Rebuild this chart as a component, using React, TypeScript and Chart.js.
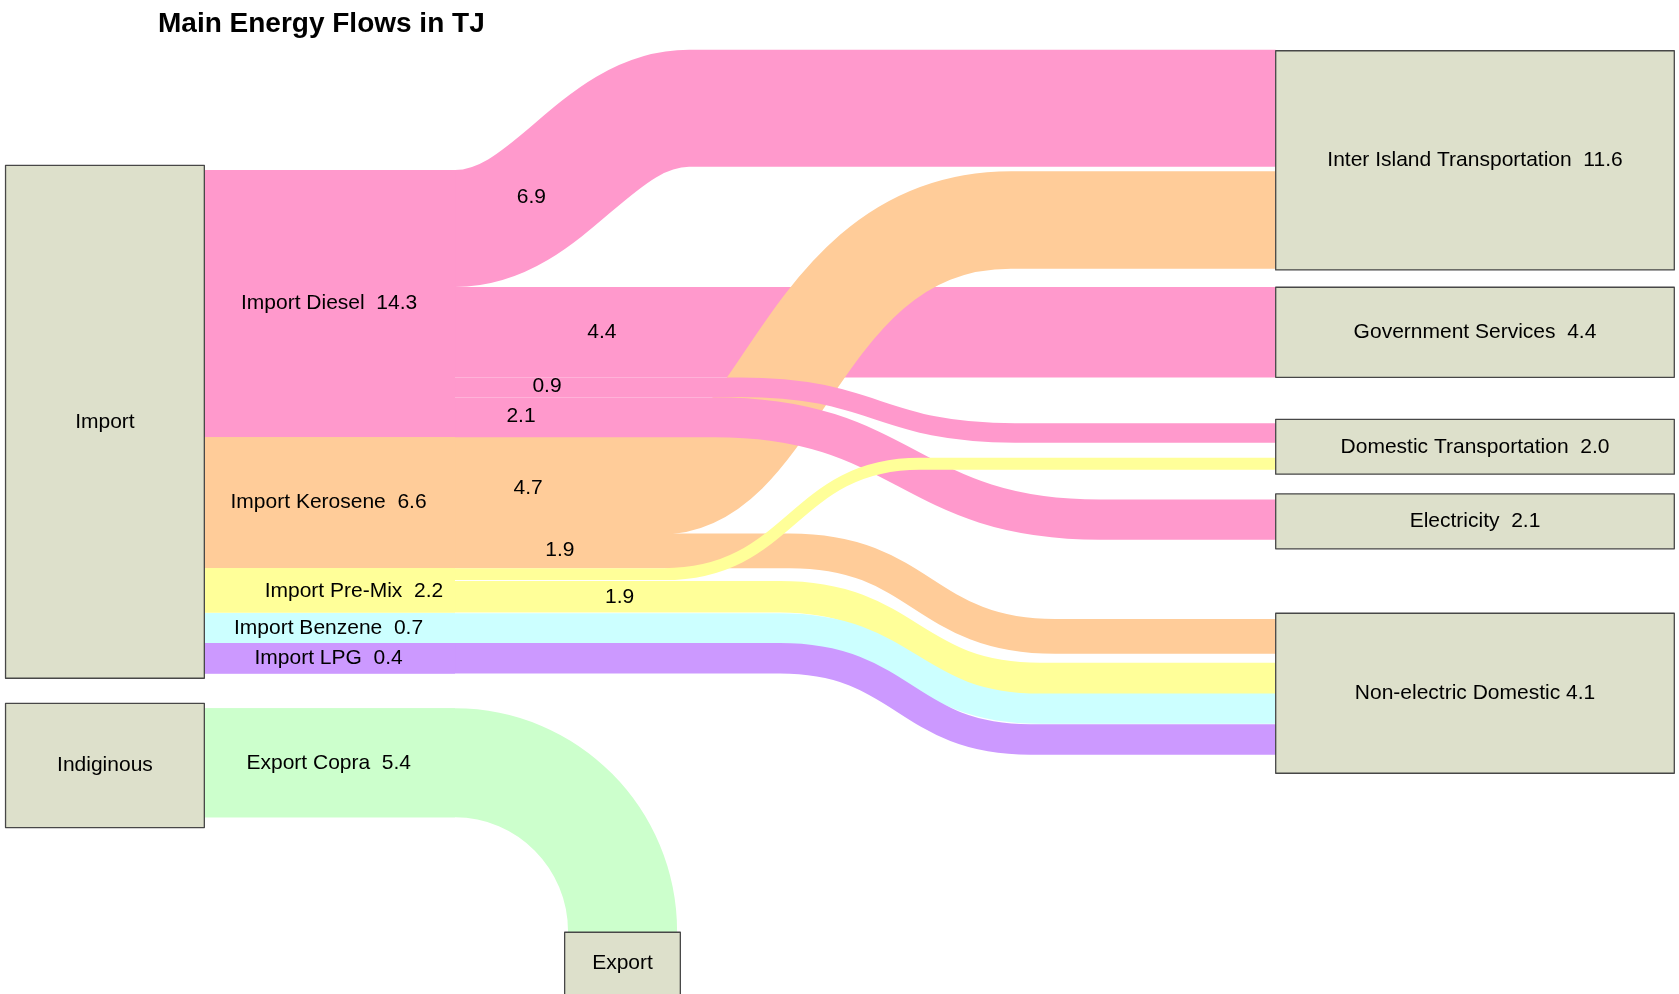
import React, { useEffect, useRef } from "react";
import { Chart, registerables } from "chart.js";

Chart.register(...registerables);

// ---------------- DATA (TJ) ----------------
const chartTitle = "Main Energy Flows in TJ";

const nodeNames = [
  "Import",
  "Indiginous",
  "Export",
  "Inter Island Transportation",
  "Government Services",
  "Domestic Transportation",
  "Electricity",
  "Non-electric Domestic",
];
const nodeValues: (number | null)[] = [null, null, null, 11.6, 4.4, 2.0, 2.1, 4.1];
const nodeValueSep = ["", "", "", "  ", "  ", "  ", "  ", " "];

const bandNames = [
  "Import Diesel",
  "Import Kerosene",
  "Import Pre-Mix",
  "Import Benzene",
  "Import LPG",
  "Export Copra",
];
const bandValues = [14.3, 6.6, 2.2, 0.7, 0.4, 5.4];

// flows: band (source fuel) -> node (destination)
const flowFrom = [0, 0, 0, 0, 1, 1, 2, 2, 3, 4, 5];
const flowTo = [3, 4, 5, 6, 3, 7, 5, 7, 7, 7, 2];
const flowValues = [6.9, 4.4, 0.9, 2.1, 4.7, 1.9, 0.3, 1.9, 0.7, 0.4, 5.4];
const flowShowLabel = [true, true, true, true, true, true, false, true, false, false, false];

// ---------------- LAYOUT / STYLE ----------------
// x axis: 0..100 (% of width); y axis: TJ-equivalent band units (top = 0)
const X_MAX = 100;
const Y_MAX = 52.32;

const bandColors = ["#FF99CC", "#FFCC99", "#FFFF99", "#CCFFFF", "#CC99FF", "#CCFFCC"];
const nodeFill = "#DDE0CB";
const nodeStroke = "#474747";
const FONT = '"Liberation Sans", Arial, sans-serif';

// node boxes [x0, x1, y0, y1]
const nodeBoxes = [
  [0.33, 12.17, 8.7, 35.7],
  [0.33, 12.17, 37.02, 43.56],
  [33.63, 40.52, 49.07, 53.5],
  [75.98, 99.72, 2.67, 14.21],
  [75.98, 99.72, 15.12, 19.86],
  [75.98, 99.72, 22.07, 24.96],
  [75.98, 99.72, 26.0, 28.89],
  [75.98, 99.72, 32.28, 40.7],
];
// node label centre override (only Export, whose box runs off the bottom)
const nodeLabelY: (number | null)[] = [null, null, 50.7, null, null, null, null, null];

// common straight stretch of each fuel band, before it splits [x0, x1]
const bandStretch = [12.17, 27.1];

// drawn band width of each flow, in y-axis units
const flowBandWidth = [6.16, 4.76, 1.02, 2.11, 5.13, 1.83, 0.63, 1.66, 1.59, 1.61, 5.74];
// flow route: start x, bend start, bend end, end x, start y, end y, handle fractions
const flowRoute = [
  { xs: 12.17, xa: 27.1, xb: 41.04, xt: 75.98, ys: 12.03, yt: 5.7, h1: 0.4, h2: 0.4 },
  { xs: 12.17, xa: 27.1, xb: 27.1, xt: 75.98, ys: 17.49, yt: 17.49, h1: 0.5, h2: 0.5 },
  { xs: 12.17, xa: 44.07, xb: 60.45, xt: 75.98, ys: 20.38, yt: 22.79, h1: 0.5, h2: 0.5 },
  { xs: 12.17, xa: 42.53, xb: 65.52, xt: 75.98, ys: 21.96, yt: 27.35, h1: 0.5, h2: 0.5 },
  { xs: 12.17, xa: 39.31, xb: 60.21, xt: 75.98, ys: 25.57, yt: 11.58, h1: 0.35, h2: 0.6 },
  { xs: 12.17, xa: 47.05, xb: 62.83, xt: 75.98, ys: 28.99, yt: 33.5, h1: 0.5, h2: 0.5 },
  { xs: 12.17, xa: 39.55, xb: 54.79, xt: 75.98, ys: 30.22, yt: 24.41, h1: 0.5, h2: 0.5 },
  { xs: 12.17, xa: 46.46, xb: 61.94, xt: 75.98, ys: 31.41, yt: 35.71, h1: 0.5, h2: 0.5 },
  { xs: 12.17, xa: 46.46, xb: 61.94, xt: 75.98, ys: 33.07, yt: 37.3, h1: 0.5, h2: 0.5 },
  { xs: 12.17, xa: 46.46, xb: 61.35, xt: 75.98, ys: 34.65, yt: 38.92, h1: 0.5, h2: 0.5 },
  { xs: 12.17, xa: 27.1, xb: 37.08, xt: 37.08, ys: 40.15, yt: 49.04, h1: 0.5523, h2: 0.5523, down: true, yEnd: 50 },
];
// draw order (later = on top)
const flowOrder = [0, 1, 4, 2, 3, 5, 6, 7, 8, 9, 10];
// value label positions for flows
const flowLabelPos = [
  [31.65, 10.38],
  [35.85, 17.47],
  [32.58, 20.32],
  [31.03, 21.93],
  [31.45, 25.72],
  [33.35, 28.95],
  null,
  [36.9, 31.41],
  null,
  null,
  null,
];
// band label positions
const bandLabelPos = [
  [19.6, 15.96],
  [19.57, 26.46],
  [21.08, 31.11],
  [19.57, 33.07],
  [19.57, 34.65],
  [19.58, 40.17],
];
const titlePos = [9.41, 1.7];

const sankeyPlugin = {
  id: "sankeyDraw",
  afterDraw(chart: any) {
    const ctx: CanvasRenderingContext2D = chart.ctx;
    const xs = chart.scales.x;
    const ys = chart.scales.y;
    const px = (v: number) => xs.getPixelForValue(v);
    const py = (v: number) => ys.getPixelForValue(v);
    const ph = (v: number) => Math.abs(py(v) - py(0));

    ctx.save();
    // flows
    for (const i of flowOrder) {
      const r: any = flowRoute[i];
      const x0 = px(r.xs), xa = px(r.xa), xb = px(r.xb), x1 = px(r.xt);
      const y0 = py(r.ys), y1 = py(r.yt);
      ctx.beginPath();
      ctx.moveTo(x0, y0);
      ctx.lineTo(xa, y0);
      if (r.down) {
        const dx = xb - xa;
        const dy = y1 - y0;
        ctx.bezierCurveTo(xa + r.h1 * dx, y0, xb, y1 - r.h2 * dy, xb, y1);
        ctx.lineTo(xb, py(r.yEnd));
      } else {
        const dx = xb - xa;
        ctx.bezierCurveTo(xa + r.h1 * dx, y0, xb - r.h2 * dx, y1, xb, y1);
        ctx.lineTo(x1, y1);
      }
      ctx.lineWidth = ph(flowBandWidth[i]);
      ctx.lineCap = "butt";
      ctx.lineJoin = "round";
      ctx.strokeStyle = bandColors[flowFrom[i]];
      ctx.stroke();
    }

    // common stretch of each fuel band (one solid band before the split)
    bandNames.forEach((_, b) => {
      let top = Infinity;
      let bot = -Infinity;
      flowFrom.forEach((f, i) => {
        if (f !== b) return;
        const r: any = flowRoute[i];
        top = Math.min(top, r.ys - flowBandWidth[i] / 2);
        bot = Math.max(bot, r.ys + flowBandWidth[i] / 2);
      });
      if (!isFinite(top)) return;
      const x0 = px(bandStretch[0]);
      const x1 = px(bandStretch[1]);
      ctx.fillStyle = bandColors[b];
      ctx.fillRect(x0, py(top), x1 - x0, py(bot) - py(top));
    });

    // nodes
    ctx.lineWidth = 1.3;
    nodeBoxes.forEach((b) => {
      const x0 = px(b[0]), x1 = px(b[1]), y0 = py(b[2]), y1 = py(b[3]);
      ctx.fillStyle = nodeFill;
      ctx.fillRect(x0, y0, x1 - x0, y1 - y0);
      ctx.strokeStyle = nodeStroke;
      ctx.strokeRect(x0, y0, x1 - x0, y1 - y0);
    });

    // texts
    ctx.fillStyle = "#000";
    ctx.textAlign = "center";
    ctx.textBaseline = "middle";
    ctx.font = `21px ${FONT}`;
    nodeNames.forEach((n, i) => {
      const b = nodeBoxes[i];
      const v = nodeValues[i];
      const txt = v == null ? n : n + nodeValueSep[i] + v.toFixed(1);
      const cy = nodeLabelY[i] != null ? (nodeLabelY[i] as number) : (b[2] + b[3]) / 2;
      ctx.fillText(txt, px((b[0] + b[1]) / 2), py(cy));
    });
    bandNames.forEach((n, i) => {
      const p = bandLabelPos[i];
      ctx.fillText(n + "  " + bandValues[i].toFixed(1), px(p[0]), py(p[1]));
    });
    flowValues.forEach((v, i) => {
      const p = flowLabelPos[i];
      if (!flowShowLabel[i] || !p) return;
      ctx.fillText(v.toFixed(1), px(p[0]), py(p[1]));
    });

    ctx.textAlign = "left";
    ctx.textBaseline = "alphabetic";
    ctx.font = `bold 28px ${FONT}`;
    ctx.fillText(chartTitle, px(titlePos[0]), py(titlePos[1]));
    ctx.restore();
  },
};

export default function App() {
  const ref = useRef<HTMLCanvasElement | null>(null);
  useEffect(() => {
    document.body.style.margin = "0";
    document.body.style.background = "#fff";
    const canvas = ref.current;
    if (!canvas) return;
    const chart = new Chart(canvas, {
      type: "scatter",
      data: { datasets: [] },
      options: {
        animation: false,
        responsive: false,
        maintainAspectRatio: false,
        devicePixelRatio: 1,
        layout: { padding: 0 },
        events: [],
        plugins: {
          legend: { display: false },
          tooltip: { enabled: false },
          title: { display: false },
        },
        scales: {
          x: { type: "linear", min: 0, max: X_MAX, display: false },
          y: { type: "linear", min: 0, max: Y_MAX, reverse: true, display: false },
        },
      },
      plugins: [sankeyPlugin],
    });
    return () => chart.destroy();
  }, []);
  return (
    <canvas
      ref={ref}
      width={1679}
      height={994}
      style={{ display: "block", width: "1679px", height: "994px" }}
    />
  );
}
